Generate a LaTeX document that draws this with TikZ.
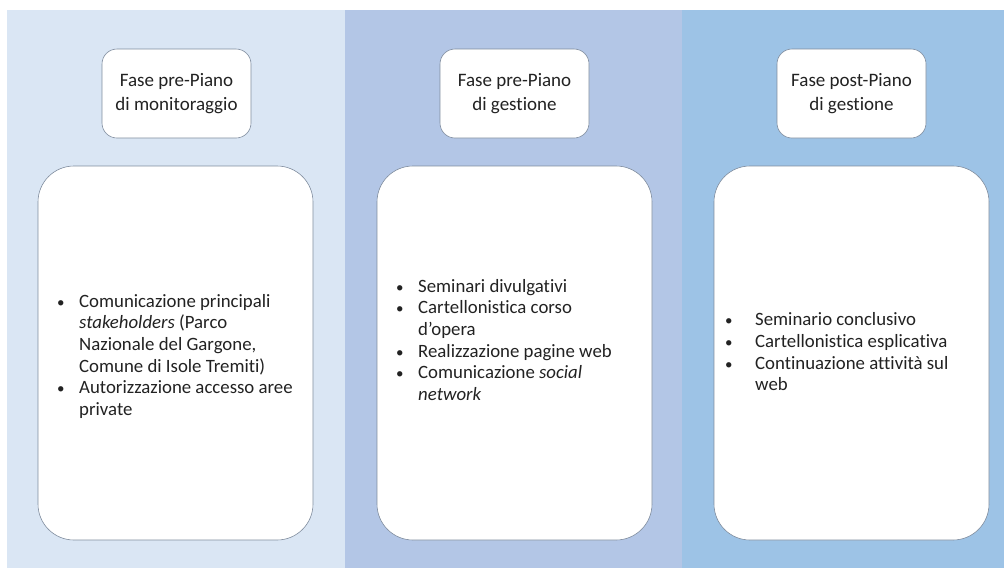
\documentclass[tikz,border=0pt]{standalone}
\usepackage{fontspec}
\setmainfont[Ligatures=NoCommon]{Carlito}
\usepackage{array}
\definecolor{panelA}{HTML}{DAE6F4}
\definecolor{panelB}{HTML}{B3C6E6}
\definecolor{panelC}{HTML}{9DC3E6}
\definecolor{edge}{HTML}{7F8C9E}
\definecolor{ink}{HTML}{222222}
% bullet list: first column holds the bullet, #1 is its width
\newcommand{\blist}[2][22pt]{\begin{tabular}{@{}p{#1}@{}l@{}}#2\end{tabular}}
\newcommand{\bul}{{\fontsize{15}{15}\selectfont\textbullet}}
\begin{document}
\begin{tikzpicture}[x=1pt,y=-1pt,
  headbox/.style={draw=edge,line width=0.6pt,fill=white,rounded corners=15pt},
  bodybox/.style={draw=edge,line width=0.6pt,fill=white,rounded corners=36pt},
  headtext/.style={font=\fontsize{19}{24}\selectfont,text=ink,align=center},
  bodytext/.style={font=\fontsize{18.8}{21.6}\selectfont,text=ink,anchor=west,inner sep=0pt}]
\useasboundingbox (0,0) rectangle (1004,568);
\fill[white] (0,0) rectangle (1004,568);
% three phase panels
\fill[panelA] (7,10) rectangle (345,568);
\fill[panelB] (345,10) rectangle (682,568);
\fill[panelC] (682,10) rectangle (1004,568);
% phase headers
\draw[headbox] (102,49) rectangle (251,138);
\draw[headbox] (440,49) rectangle (589,138);
\draw[headbox] (777,49) rectangle (926,138);
\node[headtext] (h1) at (176.5,94) {Fase pre-Piano\\di monitoraggio};
\node[headtext] (h2) at (514.5,94) {Fase pre-Piano\\di gestione};
\node[headtext] (h3) at (851.5,94) {Fase post-Piano\\di gestione};
% activity boxes
\draw[bodybox] (38,166) rectangle (313,540);
\draw[bodybox] (377,166) rectangle (652,540);
\draw[bodybox] (714,166) rectangle (989,540);
\node[bodytext] (b1) at (57,357) {\blist{%
\bul & Comunicazione principali\\
 & \textit{stakeholders} (Parco\\
 & Nazionale del Gargone,\\
 & Comune di Isole Tremiti)\\
\bul & Autorizzazione accesso aree\\
 & private}};
\node[bodytext] (b2) at (396,342) {\blist{%
\bul & Seminari divulgativi\\
\bul & Cartellonistica corso\\
 & d’opera\\
\bul & Realizzazione pagine web\\
\bul & Comunicazione \textit{social}\\
 & \textit{network}}};
\node[bodytext] (b3) at (725,354) {\blist[30pt]{%
\bul & Seminario conclusivo\\
\bul & Cartellonistica esplicativa\\
\bul & Continuazione attività sul\\
 & web}};
\end{tikzpicture}
\end{document}
